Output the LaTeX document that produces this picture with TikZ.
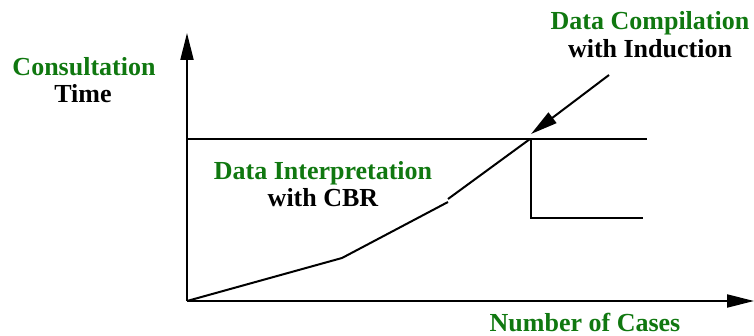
\documentclass[tikz,border=0pt]{standalone}
\usepackage{fontspec}
\setmainfont{Liberation Serif}
\usetikzlibrary{arrows.meta}
\definecolor{labelgreen}{RGB}{16,120,16}
\tikzset{
  lbl/.style={font=\fontsize{26}{27}\selectfont\bfseries, inner sep=0pt, anchor=base},
  glbl/.style={lbl, text=labelgreen},
  curve/.style={line width=2pt, line join=miter},
  axis/.style={line width=2pt, -{Triangle[length=27pt,width=13pt]}},
}
\begin{document}
\begin{tikzpicture}[x=1pt,y=-1pt]
  \useasboundingbox (0,0) rectangle (754,336);
  % axes
  \coordinate (O) at (187,301);
  \coordinate (ytop) at (187,33);
  \coordinate (xend) at (754,301);
  \draw[axis] (O) -- (ytop);
  \draw[axis] (O) -- (xend);
  % upper level line
  \coordinate (hl) at (187,139);
  \coordinate (hr) at (647,139);
  \draw[curve] (hl) -- (hr);
  % rising consultation-time curve
  \coordinate (c1) at (342,258);
  \coordinate (c2) at (448,202);
  \coordinate (c3) at (448,199);
  \coordinate (c4) at (530,139);
  \draw[curve] (O) -- (c1) -- (c2);
  \draw[curve] (c3) -- (c4);
  % drop after compilation
  \coordinate (d0) at (531,139);
  \coordinate (d1) at (531,218);
  \coordinate (d2) at (643,218);
  \draw[curve] (d0) -- (d1) -- (d2);
  % labels
  \node[glbl] (cons) at (84,76) {Consultation};
  \node[lbl] (time) at (83,103) {Time};
  \node[glbl] (interp) at (323,180) {Data Interpretation};
  \node[lbl] (cbr) at (323,207) {with CBR};
  \node[glbl] (comp) at (650,30) {Data Compilation};
  \node[lbl] (induct) at (650,58) {with Induction};
  \node[glbl] (cases) at (585,331) {Number of Cases};
  % pointer to the crossover
  \coordinate (ptail) at (609,75);
  \coordinate (ptip) at (531,134);
  \draw[line width=2pt, -{Triangle[length=27pt,width=13pt]}] (ptail) -- (ptip);
\end{tikzpicture}
\end{document}
